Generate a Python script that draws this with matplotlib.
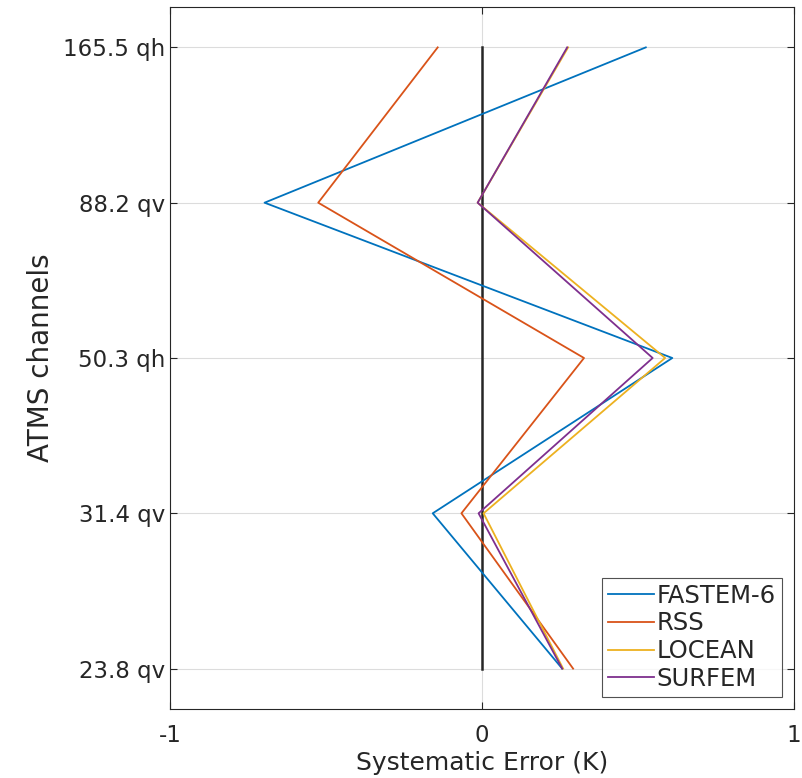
import matplotlib
matplotlib.use('Agg')
import matplotlib.pyplot as plt
import numpy as np

# Channels, bottom to top
channels = ['23.8 qv', '31.4 qv', '50.3 qh', '88.2 qv', '165.5 qh']

# Systematic error (K) per channel, same order as channels
fastem6 = [0.257, -0.158, 0.61, -0.697, 0.525]
rss = [0.292, -0.066, 0.327, -0.525, -0.142]
locean = [0.26, 0.005, 0.587, -0.014, 0.276]
surfem = [0.257, -0.011, 0.547, -0.014, 0.273]

series = [
    ('FASTEM-6', fastem6, (0.0, 0.447, 0.741)),
    ('RSS', rss, (0.85, 0.325, 0.098)),
    ('LOCEAN', locean, (0.929, 0.694, 0.125)),
    ('SURFEM', surfem, (0.494, 0.184, 0.556)),
]

fig = plt.figure(figsize=(8.02, 7.78), dpi=100)
ax = fig.add_axes([0.212, 0.0887, 0.778, 0.9023])

y = np.arange(1, len(channels) + 1)

ax.plot(np.zeros(len(y)), y, color='#262626', linewidth=1.8, zorder=2)
for name, vals, col in series:
    ax.plot(vals, y, color=col, linewidth=1.3, label=name, zorder=3)

ax.set_xlim(-1, 1)
ax.set_ylim(0.74, 5.26)
ax.set_xticks([-1, 0, 1])
ax.set_xticklabels(['-1', '0', '1'])
ax.set_yticks(y)
ax.set_yticklabels(channels)
ax.tick_params(direction='in', top=True, right=True, labelsize=16.5,
               colors='#262626', length=5, width=0.8)
ax.tick_params(axis='x', pad=11)
ax.grid(True, color='#dcdcdc', linewidth=0.8)
ax.set_axisbelow(True)
for s in ax.spines.values():
    s.set_color('#262626')
    s.set_linewidth(0.8)

ax.set_xlabel('Systematic Error (K)', fontsize=18, color='#262626', labelpad=3)
ax.set_ylabel('ATMS channels', fontsize=20, color='#262626',
              family=['Liberation Sans Narrow', 'DejaVu Sans'], labelpad=6)

leg = ax.legend(loc='lower right', fontsize=17.5, frameon=True, fancybox=False,
                handlelength=1.9, handletextpad=0.1, borderpad=0.25,
                labelspacing=0.15, borderaxespad=0.5, labelcolor='#262626')
leg.get_frame().set_edgecolor('#262626')
leg.get_frame().set_linewidth(0.8)

fig.savefig('out.png', dpi=100)
